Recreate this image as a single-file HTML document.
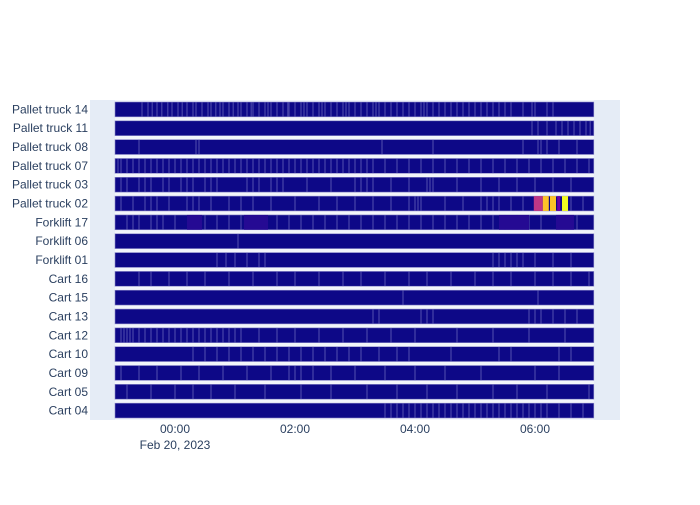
<!DOCTYPE html>
<html><head><meta charset="utf-8"><style>
body{margin:0;background:#fff;font-family:"Liberation Sans",sans-serif;}
svg text{font-family:"Liberation Sans",sans-serif;font-size:12px;fill:#2a3f5f;}
</style></head><body>
<svg id="c" width="700" height="500"></svg>
<script>
const categories=["Pallet truck 14","Pallet truck 11","Pallet truck 08","Pallet truck 07","Pallet truck 03","Pallet truck 02","Forklift 17","Forklift 06","Forklift 01","Cart 16","Cart 15","Cart 13","Cart 12","Cart 10","Cart 09","Cart 05","Cart 04"];
const rangeStart=-1.0, rangeEnd=6.98;
const tickHours=[0,2,4,6];
const tickLabels=["00:00","02:00","04:00","06:00"];
// short-segment boundaries (hours since Feb 20 00:00) per row
const streaks=[
[-0.55,-0.45,-0.38,-0.3,-0.22,-0.12,-0.05,0.05,0.12,0.2,0.3,0.35,0.45,0.55,0.6,0.68,0.75,0.8,0.9,0.97,1.05,1.1,1.2,1.27,1.3,1.4,1.5,1.55,1.6,1.7,1.8,1.88,1.9,2,2.1,2.15,2.2,2.3,2.4,2.45,2.5,2.6,2.7,2.8,2.85,2.9,3,3.1,3.2,3.3,3.35,3.4,3.5,3.6,3.7,3.8,3.9,4,4.1,4.15,4.2,4.3,4.4,4.5,4.6,4.7,4.8,4.9,5,5.1,5.2,5.3,5.4,5.5,5.6,5.8,5.95,6.0,6.2,6.3],
[5.95,6.05,6.2,6.35,6.45,6.55,6.65,6.75,6.85,6.92],
[-0.6,0.35,0.4,3.45,4.3,5.8,6.05,6.1,6.2,6.4,6.7],
[-0.95,-0.9,-0.8,-0.7,-0.6,-0.5,-0.4,-0.3,-0.2,-0.1,0,0.1,0.2,0.3,0.4,0.5,0.6,0.7,0.8,0.9,1.0,1.1,1.2,1.3,1.4,1.5,1.6,1.7,1.8,1.9,2.0,2.1,2.2,2.3,2.4,2.5,2.6,2.7,2.8,2.9,3.0,3.1,3.2,3.3,3.5,3.7,3.9,4.1,4.3,4.5,4.7,4.9,5.1,5.3,5.5,5.7,5.9,6.1,6.3,6.5,6.7,6.9],
[-0.9,-0.8,-0.6,-0.5,-0.4,-0.2,-0.1,0.1,0.2,0.3,0.5,0.6,0.7,1.2,1.3,1.4,1.6,1.7,1.8,2.2,2.6,3.0,3.1,3.2,3.3,3.6,3.9,4.2,4.25,4.3,4.7,5.1,5.4,5.7,6.0,6.3,6.6],
[-0.9,-0.7,-0.5,-0.4,-0.3,-0.1,0.2,0.3,0.4,0.6,0.9,1.1,1.3,1.6,2.0,2.4,2.7,3.0,3.3,3.6,3.9,4.0,4.05,4.1,4.5,4.8,5.1,5.2,5.3,5.4,5.6,5.8,6.6,6.8],
[-0.8,-0.7,-0.6,-0.4,-0.3,-0.2,0,0.3,0.5,0.7,0.9,1.1,1.3,1.5,1.7,1.9,2.1,2.3,2.5,2.7,2.9,3.1,3.3,3.5,3.7,3.9,4.1,4.3,4.5,4.7,4.9,5.1,5.3,5.5,5.7,5.9,6.1,6.4,6.7],
[1.05],
[0.7,0.85,1.0,1.2,1.4,1.5,5.3,5.4,5.5,5.6,5.7,5.8,6.0,6.3,6.6],
[-0.6,-0.4,-0.1,0.2,0.5,0.9,1.3,1.7,2.0,2.4,2.8,3.1,3.5,3.9,4.2,4.6,5.0,5.3,5.6,6.0,6.3,6.6,6.9],
[3.8,6.05],
[3.3,3.4,4.1,4.2,4.3,5.9,6.0,6.1,6.3,6.5,6.7],
[-0.9,-0.85,-0.8,-0.75,-0.7,-0.6,-0.5,-0.4,-0.3,-0.2,-0.1,0,0.1,0.2,0.3,0.4,0.5,0.6,0.7,0.8,0.9,1.0,1.1,1.4,1.7,2.0,2.4,2.8,3.2,3.6,4.0,4.7,5.3,5.9,6.5],
[0.3,0.5,0.7,0.9,1.1,1.3,1.5,1.7,1.9,2.1,2.3,2.5,2.7,2.9,3.1,3.4,3.7,3.9,4.6,5.4,5.6,6.4,6.6],
[-0.9,-0.6,-0.3,0.1,0.4,0.8,1.2,1.6,1.9,2.0,2.1,2.3,2.6,3.0,3.5,4.0,4.5,5.1,6.0,6.4],
[-0.8,-0.4,0,0.3,0.6,1.0,1.5,2.1,2.6,3.2,3.7,4.2,4.7,5.3,5.7,6.2,6.9],
[3.5,3.6,3.7,3.8,3.9,4.0,4.1,4.2,4.3,4.4,4.5,4.6,4.7,4.8,4.9,5.0,5.1,5.2,5.3,5.4,5.5,5.6,5.7,5.8,5.9,6.0,6.1,6.2,6.4,6.6,6.8]
];
// coloured (high-value) segments: row index, start, end, colour
const hotRows=[5,5,5,5,5,6,6,6,6];
const hotStart=[5.98,6.13,6.25,6.37,6.45,0.2,1.15,5.4,6.35];
const hotEnd=[6.13,6.23,6.35,6.42,6.55,0.45,1.55,5.9,6.65];
const hotColor=["#bd3786","#fdc328","#fdc328","#6a00a8","#f0f921","#250a93","#250a93","#250a93","#250a93"];

const svg=document.getElementById('c');const NS="http://www.w3.org/2000/svg";
const L=90,R=620,T=100,B=420;
const xs=h=>175+(h-0)*60;
const band=(B-T)/categories.length;
const ys=i=>T+i*band;
function mk(t,a,p){const e=document.createElementNS(NS,t);for(const k in a)e.setAttribute(k,a[k]);(p||svg).appendChild(e);return e;}
const bg=mk('rect',{x:L,y:T,width:R-L,height:B-T,fill:'#e5ecf6'});


tickHours.forEach((h,i)=>{
  const g=mk('line',{x1:xs(h),x2:xs(h),y1:T,y2:B,stroke:'#fff','stroke-width':1});
  
  
  const t=mk('text',{x:xs(h),y:433,'text-anchor':'middle'});t.textContent=tickLabels[i];
  
  
});
const dl=mk('text',{x:xs(0),y:449,'text-anchor':'middle'});dl.textContent="Feb 20, 2023";


categories.forEach((c,i)=>{
  const y=ys(i);
  const g=mk('g',{});
  
  
  const sep=mk('rect',{x:xs(rangeStart),y:y,width:xs(rangeEnd)-xs(rangeStart),height:band,fill:'#f3f6fb'},g);
  const bar=mk('rect',{x:xs(rangeStart),y:y+2,width:xs(rangeEnd)-xs(rangeStart),height:band-4,fill:'#0d0887',stroke:'#8a88c8','stroke-width':0.6},g);
  
  
  streaks[i].forEach(h=>{
    const s=mk('rect',{x:xs(h)-0.6,y:y+2,width:1.2,height:band-4,fill:'#6e6cc0',opacity:0.6},g);
    
    
  });
  const t=mk('text',{x:88,y:y+band/2+4,'text-anchor':'end'});t.textContent=c;
  
  
});
hotRows.forEach((r,k)=>{
  const y=ys(r);
  const s=mk('rect',{x:xs(hotStart[k]),y:y+2,width:xs(hotEnd[k])-xs(hotStart[k]),height:band-4,fill:hotColor[k]});
  
  
});
</script>
</body></html>
